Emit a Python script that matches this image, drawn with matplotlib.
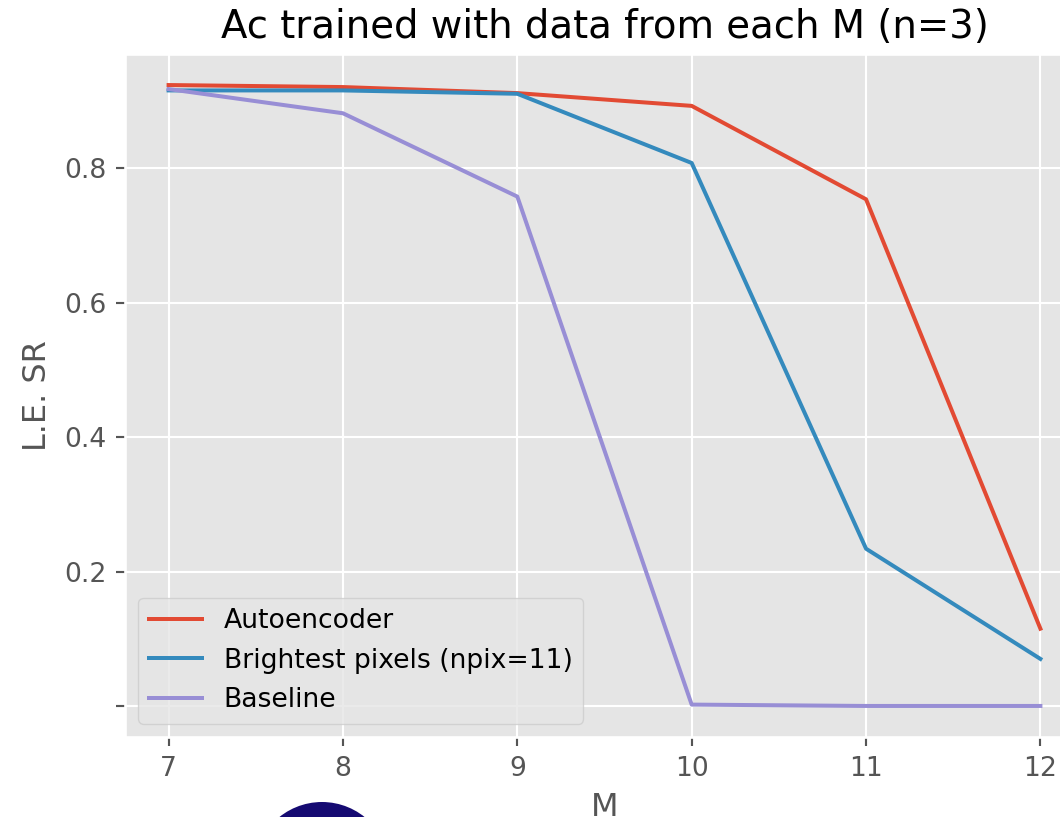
import matplotlib
matplotlib.use("Agg")
import matplotlib.pyplot as plt
from matplotlib.patches import Ellipse

plt.style.use("ggplot")

m_values = [7, 8, 9, 10, 11, 12]
autoencoder = [0.924, 0.921, 0.912, 0.893, 0.754, 0.115]
brightest = [0.916, 0.916, 0.911, 0.808, 0.234, 0.070]
baseline = [0.918, 0.882, 0.758, 0.002, 0.0, 0.0]

ytick_vals = [0.0, 0.2, 0.4, 0.6, 0.8]
ytick_labels = ["", "0.2", "0.4", "0.6", "0.8"]

W, H = 1060, 817
fig = plt.figure(figsize=(W / 192, H / 192), dpi=192)
ax = fig.add_axes([125 / W, 80 / H, 959 / W, 683 / H])

ax.plot(m_values, autoencoder, label="Autoencoder")
ax.plot(m_values, brightest, label="Brightest pixels (npix=11)")
ax.plot(m_values, baseline, label="Baseline")

ax.set_yticks(ytick_vals)
ax.set_yticklabels(ytick_labels)
ax.set_xticks(m_values)
ax.set_xlabel("M")
ax.set_ylabel("L.E. SR")
ax.set_title("Ac trained with data from each M (n=3)", fontsize=14.5)
ax.legend(loc="lower left")

# dark blob partly visible at the bottom of the screenshot
r = 68
fig.patches.append(Ellipse((322 / W, (H - 870) / H), 2 * r / W, 2 * r / H,
                           transform=fig.transFigure, facecolor="#150a72",
                           edgecolor="none", zorder=5))

fig.savefig("out.png", dpi=192)
